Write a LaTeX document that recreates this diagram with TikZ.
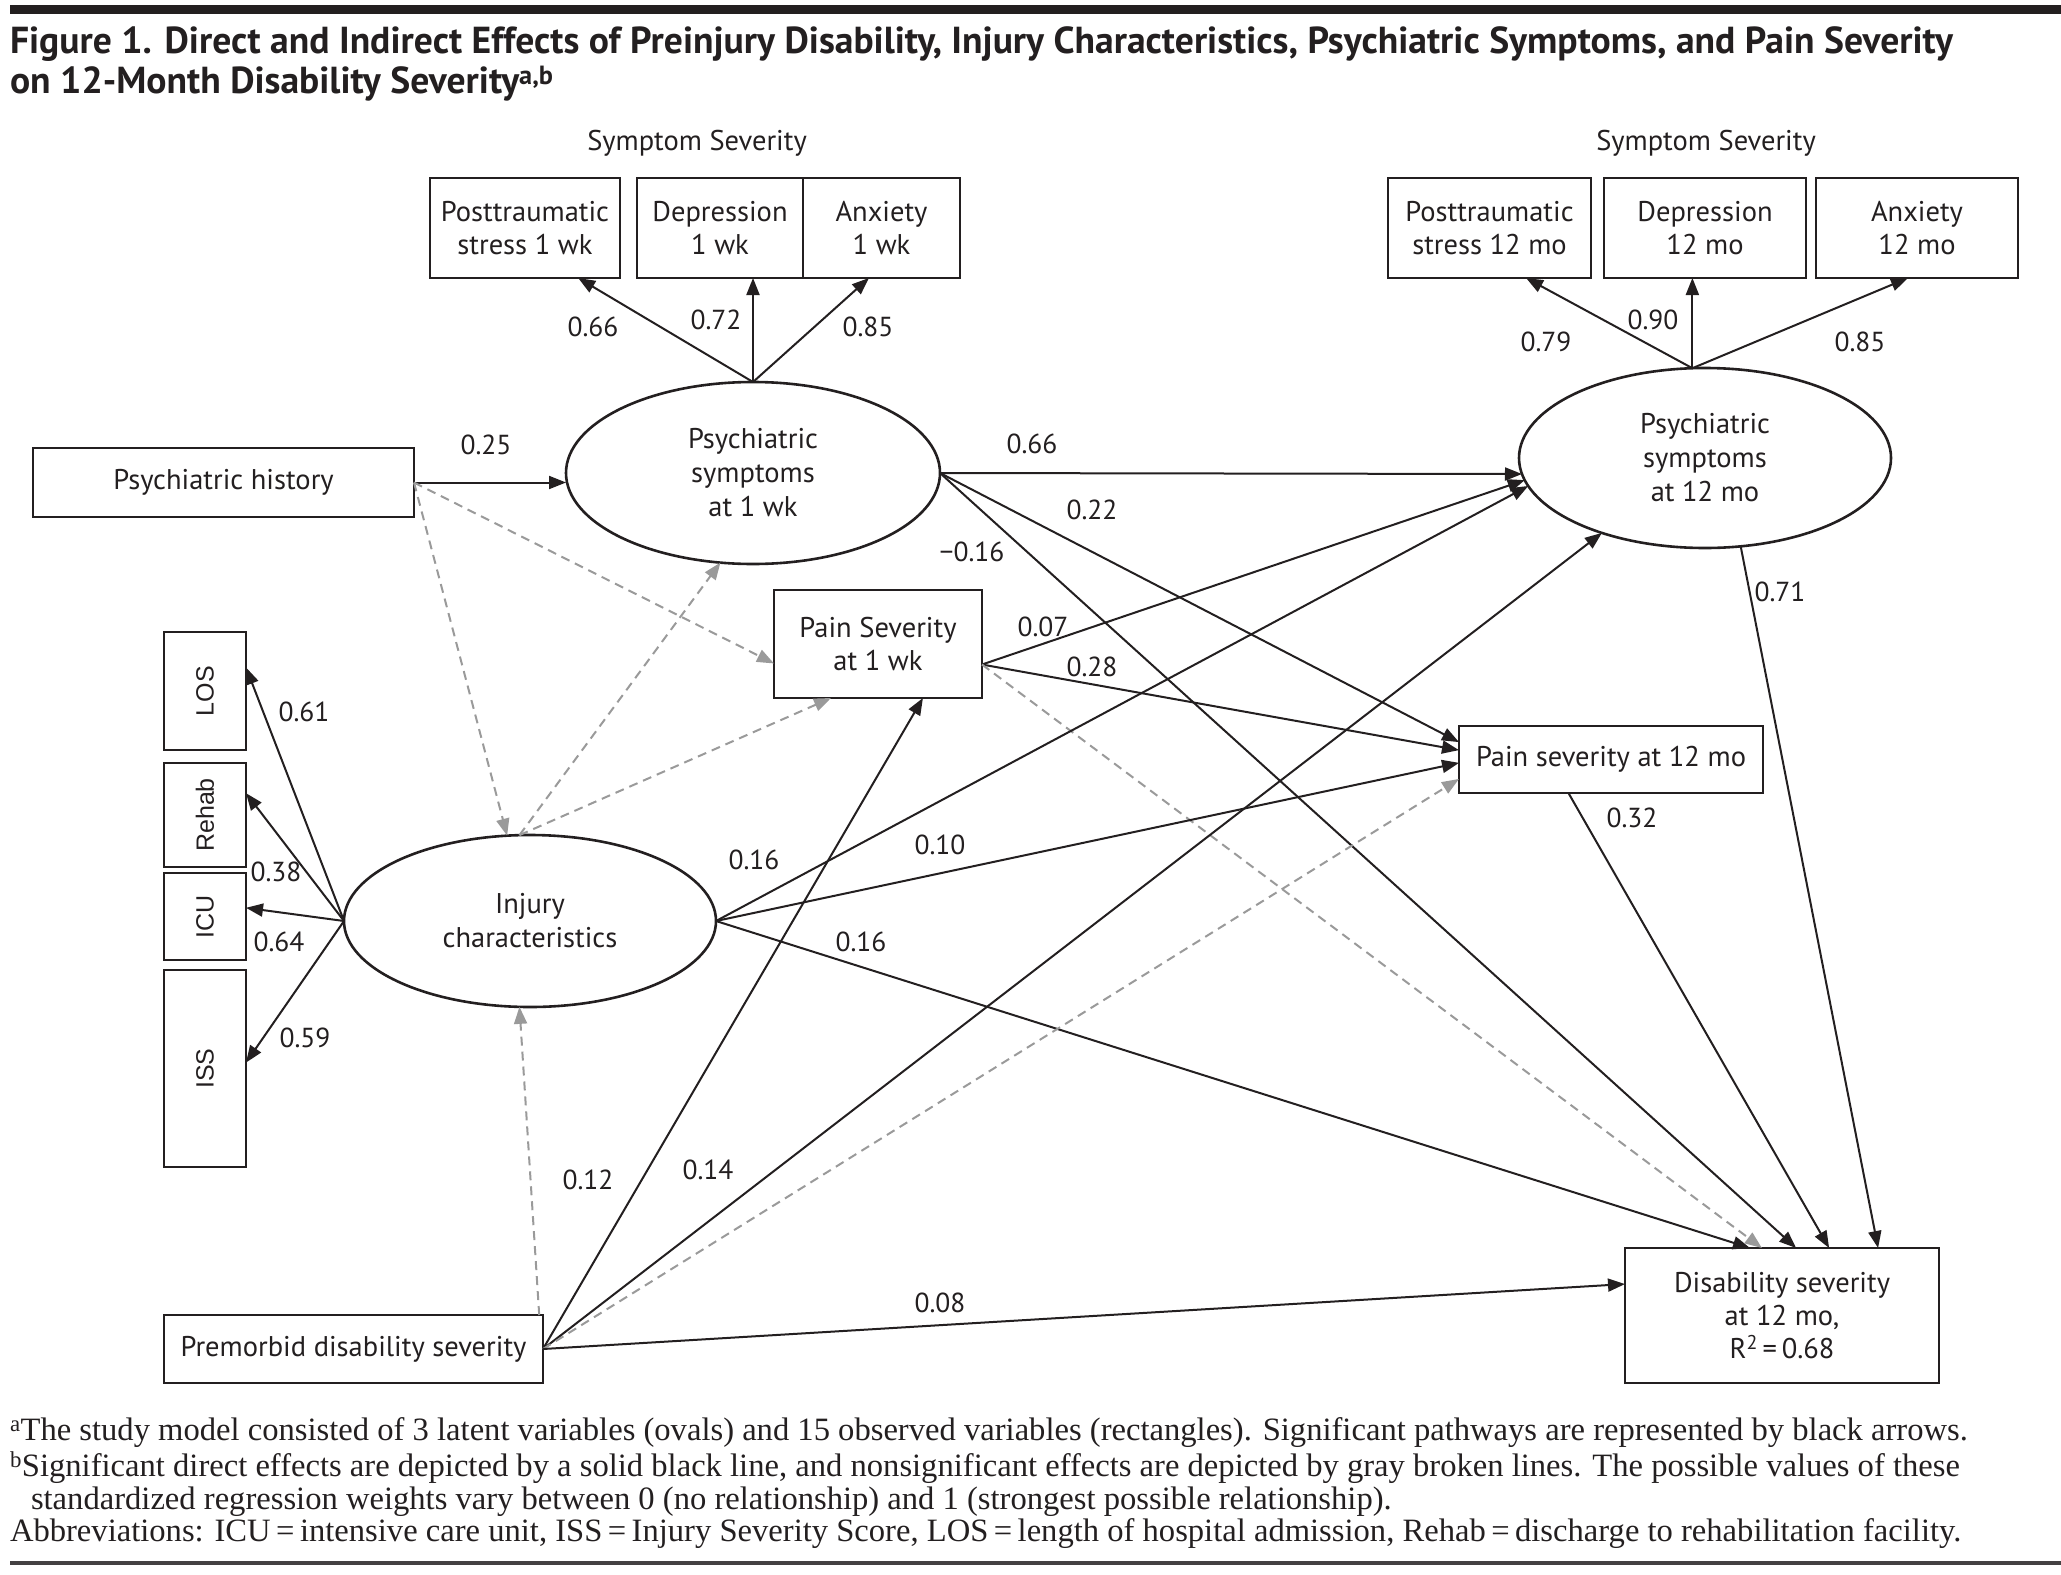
\documentclass[tikz,border=0pt]{standalone}
\usepackage{fontspec}
\setmainfont{PT Sans}
\newfontfamily\notefont{Liberation Serif}
\newfontfamily\boxfont{Liberation Sans}
\usetikzlibrary{arrows.meta,calc,shapes.geometric}
\definecolor{ink}{HTML}{231F20}
\definecolor{grayline}{HTML}{9A9A9A}
\begin{document}
\begin{tikzpicture}[x=1pt,y=-1pt,
  every node/.style={inner sep=0pt,outer sep=0pt},
  lbl/.style={font=\fontsize{27.5}{30}\selectfont,text=ink},
  hdr/.style={font=\fontsize{28.5}{30}\selectfont,text=ink},
  obs/.style={draw=ink,line width=2.6pt,rectangle,align=center,font=\fontsize{28.5}{33}\selectfont,text=ink},
  lat/.style={draw=ink,line width=2.6pt,ellipse,align=center,font=\fontsize{28.5}{34}\selectfont,text=ink},
  vbox/.style={obs,font=\boxfont\fontsize{25}{30}\selectfont},
  sig/.style={draw=ink,line width=2pt,-{Triangle[length=17pt,width=13pt]}},
  nsig/.style={draw=grayline,line width=2pt,dash pattern=on 9pt off 6pt,-{Triangle[length=17pt,width=13pt]}},
  note/.style={anchor=west,font=\notefont\fontsize{32.6}{36}\selectfont,text=ink},
  ttl/.style={anchor=west,font=\bfseries\fontsize{37.6}{42}\selectfont,text=ink}]
\useasboundingbox (0,0) rectangle (2061,1574);
\fill[ink] (10,5) rectangle (2061,14);
\fill[ink!85] (10,1561) rectangle (2061,1565);
% title
\node[ttl] (t1) at (10,44) {Figure 1. Direct and Indirect Effects of Preinjury Disability, Injury Characteristics, Psychiatric Symptoms, and Pain Severity};
\node[ttl] (t2) at (10,84) {on 12-Month Disability Severity\textsuperscript{a,b}};
% headers
\node[hdr] (sev1) at (697,143) {Symptom Severity};
\node[hdr] (sev2) at (1706,143) {Symptom Severity};
% indicator boxes
\node[obs,minimum width=190pt,minimum height=100pt] (ps1) at (525,228) {Posttraumatic\\stress 1 wk};
\node[obs,minimum width=166pt,minimum height=100pt] (dep1) at (720,228) {Depression\\1 wk};
\node[obs,minimum width=157pt,minimum height=100pt] (anx1) at (881.5,228) {Anxiety\\1 wk};
\node[obs,minimum width=203pt,minimum height=100pt] (ps12) at (1489.5,228) {Posttraumatic\\stress 12 mo};
\node[obs,minimum width=202pt,minimum height=100pt] (dep12) at (1705,228) {Depression\\12 mo};
\node[obs,minimum width=202pt,minimum height=100pt] (anx12) at (1917,228) {Anxiety\\12 mo};
% latent
\node[lat,minimum width=374pt,minimum height=182pt] (p1) at (753,473) {Psychiatric\\symptoms\\at 1 wk};
\node[lat,minimum width=372pt,minimum height=180pt] (p12) at (1705,458) {Psychiatric\\symptoms\\at 12 mo};
\node[lat,minimum width=372pt,minimum height=172pt] (inj) at (530,921) {Injury\\characteristics};
% observed
\node[obs,minimum width=381pt,minimum height=69pt] (hist) at (223.5,482.5) {Psychiatric history};
\node[obs,minimum width=208pt,minimum height=108pt] (pain1) at (878,644) {Pain Severity\\at 1 wk};
\node[obs,minimum width=304pt,minimum height=67pt] (pain12) at (1611,759.5) {Pain severity at 12 mo};
\node[vbox,minimum width=82pt,minimum height=118pt] (los) at (205,691) {\rotatebox{90}{LOS}};
\node[vbox,minimum width=82pt,minimum height=104pt] (rehab) at (205,815) {\rotatebox{90}{Rehab}};
\node[vbox,minimum width=82pt,minimum height=87pt] (icu) at (205,916.5) {\rotatebox{90}{ICU}};
\node[vbox,minimum width=82pt,minimum height=197pt] (iss) at (205,1068.5) {\rotatebox{90}{ISS}};
\node[obs,minimum width=379pt,minimum height=68pt] (pre) at (353.5,1349) {Premorbid disability severity};
\node[obs,minimum width=314pt,minimum height=135pt] (dis) at (1782,1315.5) {Disability severity\\at 12 mo,\\R\textsuperscript{2}\,=\,0.68};
% helper coordinates
\coordinate (pain1e) at ($(pain1.north east)!0.69!(pain1.south east)$);
\coordinate (pain12b) at ($(pain12.south west)!0.36!(pain12.south east)$);
\coordinate (pretop) at ($(pre.north west)!0.99!(pre.north east)$);
% measurement arrows
\draw[sig] (p1.north) -- ($(ps1.south west)!0.78!(ps1.south east)$);
\draw[sig] (p1.north) -- (p1.north |- dep1.south);
\draw[sig] (p1.north) -- ($(anx1.south west)!0.42!(anx1.south east)$);
\draw[sig] (p12.98) -- ($(ps12.south west)!0.68!(ps12.south east)$);
\draw[sig] (p12.98) -- (p12.98 |- dep12.south);
\draw[sig] (p12.98) -- ($(anx12.south west)!0.455!(anx12.south east)$);
\draw[sig] (inj.west) -- ($(los.north east)!0.3!(los.south east)$);
\draw[sig] (inj.west) -- ($(rehab.north east)!0.29!(rehab.south east)$);
\draw[sig] (inj.west) -- ($(icu.north east)!0.4!(icu.south east)$);
\draw[sig] (inj.west) -- ($(iss.north east)!0.47!(iss.south east)$);
% structural paths
\draw[sig] (hist.east) -- (p1.west |- hist.east);
\draw[nsig] (hist.east) -- ($(pain1.north west)!0.68!(pain1.south west)$);
\draw[nsig] (hist.east) -- (inj.105);
\draw[nsig] (inj.97) -- (p1.250);
\draw[nsig] (inj.97) -- ($(pain1.south west)!0.274!(pain1.south east)$);
\draw[sig] (p1.east) -- (p12.185);
\draw[sig] (p1.east) -- ($(pain12.north west)!0.24!(pain12.south west)$);
\draw[sig] (p1.east) -- ($(dis.north west)!0.545!(dis.north east)$);
\draw[sig] (pain1e) -- (p12.187);
\draw[sig] (pain1e) -- ($(pain12.north west)!0.36!(pain12.south west)$);
\draw[nsig] (pain1e) -- ($(dis.north west)!0.436!(dis.north east)$);
\draw[sig] (inj.east) -- (p12.189);
\draw[sig] (inj.east) -- ($(pain12.north west)!0.55!(pain12.south west)$);
\draw[sig] (inj.east) -- ($(dis.north west)!0.398!(dis.north east)$);
\draw[sig] (pre.east) -- ($(pain1.south west)!0.716!(pain1.south east)$);
\draw[sig] (pre.east) -- (p12.216);
\draw[nsig] (pre.east) -- ($(pain12.north west)!0.79!(pain12.south west)$);
\draw[sig] (pre.east) -- ($(dis.north west)!0.267!(dis.south west)$);
\draw[nsig] (pretop) -- (inj.263);
\draw[sig] (pain12b) -- ($(dis.north west)!0.65!(dis.north east)$);
\draw[sig] (p12.292) -- ($(dis.north west)!0.806!(dis.north east)$);
% path labels
\node[lbl] (l1) at (593,327) {0.66};
\node[lbl] (l2) at (716,320) {0.72};
\node[lbl] (l3) at (868,327) {0.85};
\node[lbl] (l4) at (1546,342) {0.79};
\node[lbl] (l5) at (1653,320) {0.90};
\node[lbl] (l6) at (1860,342) {0.85};
\node[lbl] (l7) at (486,445) {0.25};
\node[lbl] (l8) at (1032,444) {0.66};
\node[lbl] (l9) at (1092,510) {0.22};
\node[lbl] (l10) at (972,552) {−0.16};
\node[lbl] (l11) at (1043,627) {0.07};
\node[lbl] (l12) at (1092,667) {0.28};
\node[lbl] (l13) at (1780,592) {0.71};
\node[lbl] (l14) at (1632,818) {0.32};
\node[lbl] (l15) at (304,712) {0.61};
\node[lbl] (l16) at (276,872) {0.38};
\node[lbl] (l17) at (279,942) {0.64};
\node[lbl] (l18) at (305,1038) {0.59};
\node[lbl] (l19) at (754,860) {0.16};
\node[lbl] (l20) at (940,845) {0.10};
\node[lbl] (l21) at (861,942) {0.16};
\node[lbl] (l22) at (588,1180) {0.12};
\node[lbl] (l23) at (708,1170) {0.14};
\node[lbl] (l24) at (940,1303) {0.08};
% footnotes
\node[note] (fa) at (10,1433) {\textsuperscript{a}The study model consisted of 3 latent variables (ovals) and 15 observed variables (rectangles). Significant pathways are represented by black arrows.};
\node[note] (fb) at (10,1468) {\textsuperscript{b}Significant direct effects are depicted by a solid black line, and nonsignificant effects are depicted by gray broken lines. The possible values of these};
\node[note] (fc) at (31,1502) {standardized regression weights vary between 0 (no relationship) and 1 (strongest possible relationship).};
\node[note] (fd) at (10,1534) {Abbreviations: ICU\,=\,intensive care unit, ISS\,=\,Injury Severity Score, LOS\,=\,length of hospital admission, Rehab\,=\,discharge to rehabilitation facility.};
\end{tikzpicture}
\end{document}
